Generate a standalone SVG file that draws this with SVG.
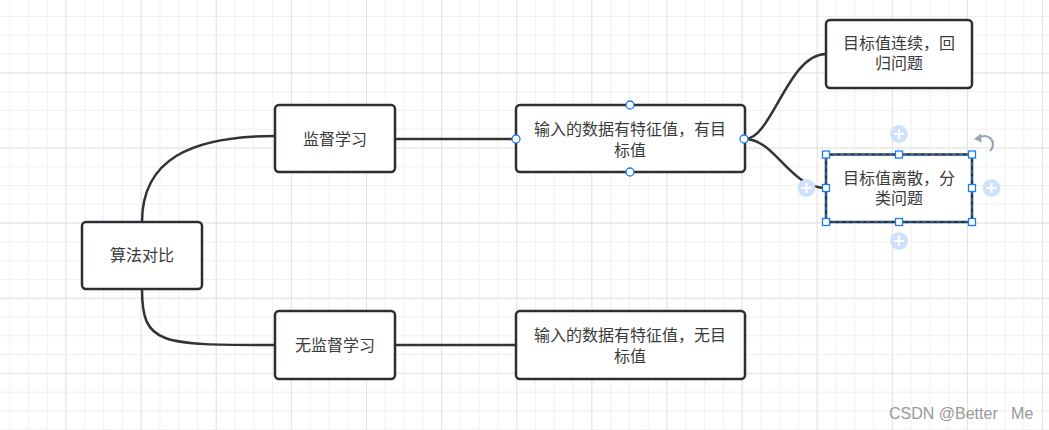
<svg xmlns="http://www.w3.org/2000/svg" width="1049" height="430" viewBox="0 0 1049 430">
<style>
.node rect.box{fill:#fff;stroke:#2b2f33;stroke-width:2.5}
.node text{font-family:"Noto Sans CJK SC","Liberation Sans",sans-serif;font-size:16px;fill:#3a3a3a;text-anchor:middle}
.conn path{fill:none;stroke:#333;stroke-width:2.5}
.cp{fill:#fff;stroke:#1a7cf0;stroke-width:1.3}
.handle{fill:#fff;stroke:#1a7cf0;stroke-width:1.3}
.plus circle{fill:#cfe2fb}
.plus path{stroke:#fff;stroke-width:2}
.wm{font-family:"Liberation Sans",Arial,sans-serif;font-size:16px;fill:#999}
</style>
<defs>
<pattern id="minor" x="9.2" y="16" width="18.78" height="18.78" patternUnits="userSpaceOnUse">
<path d="M0,0.5H18.78M0.5,0V18.78" stroke="#f0f0f0" stroke-width="1" fill="none"/>
</pattern>
<pattern id="major" x="65.5" y="72.3" width="75.12" height="75.12" patternUnits="userSpaceOnUse">
<path d="M0,0.5H75.12M0.5,0V75.12" stroke="#e3e3e3" stroke-width="1" fill="none"/>
</pattern>
</defs>
<rect width="1049" height="430" fill="#fff"/>
<rect width="1049" height="430" fill="url(#minor)"/>
<rect width="1049" height="430" fill="url(#major)"/>

<g id="connectors" class="conn">
<path d="M142,222 C142,160 190,136 275,136"/>
<path d="M142,289 C142,345 160,345 275,345"/>
<path d="M395,139 H516"/>
<path d="M395,345 H516"/>
<path d="M745,139 C772,139 788,54 826,54"/>
<path d="M745,139 C775,139 790,188 826,188"/>
</g>

<g id="n-root" class="node">
<rect class="box" x="82" y="222" width="120" height="67" rx="4"/>
<text x="142" y="261">算法对比</text>
</g>
<g id="n-sup" class="node">
<rect class="box" x="275" y="105" width="120" height="67" rx="4"/>
<text x="335" y="145">监督学习</text>
</g>
<g id="n-unsup" class="node">
<rect class="box" x="275" y="311" width="120" height="68" rx="4"/>
<text x="335" y="351">无监督学习</text>
</g>
<g id="n-sup-desc" class="node">
<rect class="box" x="516" y="105" width="229" height="67" rx="4"/>
<text x="630" y="135">输入的数据有特征值，有目<tspan x="630" y="156">标值</tspan></text>
</g>
<g id="n-unsup-desc" class="node">
<rect class="box" x="516" y="311" width="229" height="68" rx="4"/>
<text x="630" y="341">输入的数据有特征值，无目<tspan x="630" y="362">标值</tspan></text>
</g>
<g id="n-reg" class="node">
<rect class="box" x="826" y="20" width="146" height="68" rx="4"/>
<text x="899" y="49">目标值连续，回<tspan x="899" y="69">归问题</tspan></text>
</g>
<g id="n-cls" class="node">
<rect class="box" x="826" y="154.5" width="146" height="67.5" rx="1"/>
<rect x="826" y="154.5" width="146" height="67.5" fill="none" stroke="#1a7cf0" stroke-width="1.2" stroke-dasharray="4 3"/>
<text x="899" y="184">目标值离散，分<tspan x="899" y="204">类问题</tspan></text>
</g>

<g id="connection-points">
<circle class="cp" cx="630" cy="105" r="4"/>
<circle class="cp" cx="516" cy="139" r="4"/>
<circle class="cp" cx="744" cy="139" r="4"/>
<circle class="cp" cx="630" cy="172" r="4"/>
</g>

<g id="selection">
<g class="plus"><circle cx="899" cy="134" r="9"/><path d="M894,134H904M899,129V139"/></g>
<g class="plus"><circle cx="806.5" cy="188" r="9"/><path d="M801.5,188H811.5M806.5,183V193"/></g>
<g class="plus"><circle cx="991.5" cy="188" r="9"/><path d="M986.5,188H996.5M991.5,183V193"/></g>
<g class="plus"><circle cx="899" cy="241" r="9"/><path d="M894,241H904M899,236V246"/></g>
<rect class="handle" x="822.5" y="151" width="7" height="7"/>
<rect class="handle" x="895.5" y="151" width="7" height="7"/>
<rect class="handle" x="968.5" y="151" width="7" height="7"/>
<rect class="handle" x="822.5" y="184.5" width="7" height="7"/>
<rect class="handle" x="968.5" y="184.5" width="7" height="7"/>
<rect class="handle" x="822.5" y="218.5" width="7" height="7"/>
<rect class="handle" x="895.5" y="218.5" width="7" height="7"/>
<rect class="handle" x="968.5" y="218.5" width="7" height="7"/>
<g id="rotate">
<path d="M979,138 A8,8 0 0 1 990,151" fill="none" stroke="#98a6b8" stroke-width="2.2"/>
<path d="M974,139 L981,133.5 L981.5,142.5 Z" fill="#98a6b8"/>
</g>
</g>

<text class="wm" x="889" y="419" xml:space="preserve">CSDN @Better   Me</text>
</svg>
